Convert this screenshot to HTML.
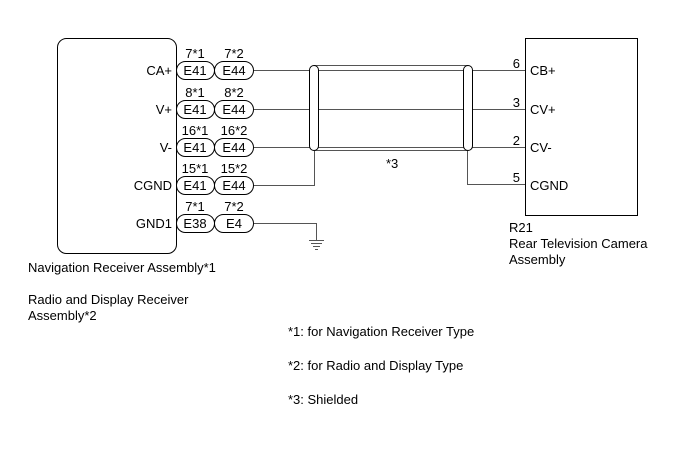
<!DOCTYPE html>
<html><head><style>
body{margin:0;background:#fff}
svg{display:block}
text{font-family:"Liberation Sans",Arial,sans-serif;font-size:13px;fill:#000}
</style></head><body>
<svg width="691" height="467" viewBox="0 0 691 467">
<rect x="57.5" y="38.5" width="119" height="215" rx="9" fill="none" stroke="#000" stroke-width="1"/>
<rect x="525.5" y="38.5" width="112" height="177" fill="none" stroke="#000" stroke-width="1"/>
<g stroke="#555" stroke-width="1" fill="none">
<line x1="254" y1="70.5" x2="525" y2="70.5"/>
<line x1="254" y1="109.5" x2="525" y2="109.5"/>
<line x1="254" y1="147.5" x2="525" y2="147.5"/>
<polyline points="254,185.5 314.5,185.5 314.5,150"/>
<polyline points="467.5,150 467.5,184.5 525,184.5"/>
<polyline points="254,223.5 316.5,223.5 316.5,240"/>
<line x1="314" y1="65.5" x2="468" y2="65.5"/>
<line x1="314" y1="150.5" x2="468" y2="150.5"/>
</g>
<g stroke="#000" stroke-width="1" fill="#fff">
<rect x="309.5" y="65.5" width="9" height="85" rx="4.5"/>
<rect x="463.5" y="65.5" width="9" height="85" rx="4.5"/>
</g>
<g stroke="#555" stroke-width="1">
<line x1="309" y1="240.5" x2="324" y2="240.5"/>
<line x1="311" y1="243.5" x2="322" y2="243.5"/>
<line x1="313" y1="246.5" x2="320" y2="246.5"/>
<line x1="315" y1="249.5" x2="318" y2="249.5"/>
</g>
<g stroke="#000" stroke-width="1" fill="#fff">
<rect x="176.5" y="61.5" width="38" height="18" rx="9"/><rect x="214.5" y="61.5" width="39" height="18" rx="9"/>
<rect x="176.5" y="100.5" width="38" height="18" rx="9"/><rect x="214.5" y="100.5" width="39" height="18" rx="9"/>
<rect x="176.5" y="138.5" width="38" height="18" rx="9"/><rect x="214.5" y="138.5" width="39" height="18" rx="9"/>
<rect x="176.5" y="176.5" width="38" height="18" rx="9"/><rect x="214.5" y="176.5" width="39" height="18" rx="9"/>
<rect x="176.5" y="214.5" width="38" height="18" rx="9"/><rect x="214.5" y="214.5" width="39" height="18" rx="9"/>
</g>
<g text-anchor="middle">
<text x="195" y="75">E41</text><text x="234" y="75">E44</text>
<text x="195" y="114">E41</text><text x="234" y="114">E44</text>
<text x="195" y="152">E41</text><text x="234" y="152">E44</text>
<text x="195" y="190">E41</text><text x="234" y="190">E44</text>
<text x="195" y="228">E38</text><text x="234" y="228">E4</text>
<text x="195" y="58">7*1</text><text x="234" y="58">7*2</text>
<text x="195" y="97">8*1</text><text x="234" y="97">8*2</text>
<text x="195" y="135">16*1</text><text x="234" y="135">16*2</text>
<text x="195" y="173">15*1</text><text x="234" y="173">15*2</text>
<text x="195" y="211">7*1</text><text x="234" y="211">7*2</text>
</g>
<g text-anchor="end">
<text x="172" y="75">CA+</text><text x="172" y="114">V+</text><text x="172" y="152">V-</text>
<text x="172" y="190">CGND</text><text x="172" y="228">GND1</text>
<text x="520" y="68">6</text><text x="520" y="107">3</text><text x="520" y="145">2</text><text x="520" y="182">5</text>
</g>
<text x="530" y="75">CB+</text><text x="530" y="114">CV+</text><text x="530" y="152">CV-</text><text x="530" y="190">CGND</text>
<text x="386" y="168">*3</text>
<text x="509" y="232">R21</text>
<text x="509" y="248">Rear Television Camera</text>
<text x="509" y="264">Assembly</text>
<text x="28" y="272">Navigation Receiver Assembly*1</text>
<text x="28" y="304">Radio and Display Receiver</text>
<text x="28" y="320">Assembly*2</text>
<text x="288" y="336">*1: for Navigation Receiver Type</text>
<text x="288" y="370">*2: for Radio and Display Type</text>
<text x="288" y="404">*3: Shielded</text>
</svg>
</body></html>
